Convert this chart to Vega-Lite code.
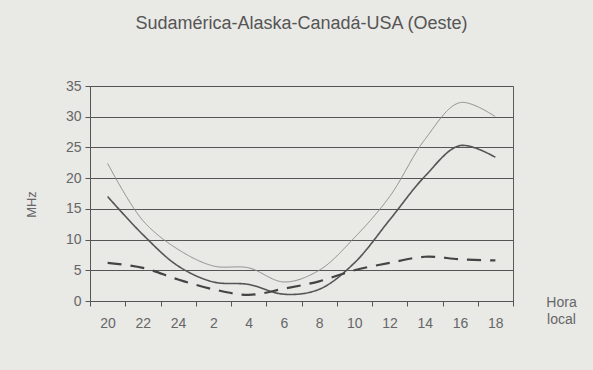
{
  "$schema": "https://vega.github.io/schema/vega-lite/v6.json",
  "autosize": "none",
  "width": 423,
  "height": 215,
  "padding": {"left": 90, "top": 86, "right": 80, "bottom": 69},
  "background": "#e9e9e6",
  "title": {
    "text": "Sudamérica-Alaska-Canadá-USA (Oeste)",
    "frame": "group",
    "anchor": "middle",
    "offset": 46,
    "fontSize": 18,
    "fontWeight": "normal",
    "font": "Liberation Sans",
    "color": "#555555"
  },
  "config": {
    "view": {"stroke": "#5a5a5a", "strokeWidth": 1, "fill": "#e9e9e6"},
    "axis": {
      "labelFont": "Liberation Sans",
      "titleFont": "Liberation Sans",
      "labelColor": "#666666",
      "titleColor": "#666666",
      "domainColor": "#555555",
      "tickColor": "#555555",
      "gridColor": "#555555",
      "gridOpacity": 1,
      "labelFontSize": 14,
      "titleFontSize": 13,
      "titleFontWeight": "normal"
    }
  },
  "data": {
    "values": [
      {"serie": "MUF", "hora": 20, "h": 1, "mhz": 22.4},
      {"serie": "MUF", "hora": 22, "h": 3, "mhz": 13.1},
      {"serie": "MUF", "hora": 24, "h": 5, "mhz": 8.4},
      {"serie": "MUF", "hora": 2, "h": 7, "mhz": 5.7},
      {"serie": "MUF", "hora": 4, "h": 9, "mhz": 5.4},
      {"serie": "MUF", "hora": 6, "h": 11, "mhz": 3.1},
      {"serie": "MUF", "hora": 8, "h": 13, "mhz": 5.0},
      {"serie": "MUF", "hora": 10, "h": 15, "mhz": 10.3},
      {"serie": "MUF", "hora": 12, "h": 17, "mhz": 17.0},
      {"serie": "MUF", "hora": 14, "h": 19, "mhz": 26.3},
      {"serie": "MUF", "hora": 16, "h": 21, "mhz": 32.3},
      {"serie": "MUF", "hora": 18, "h": 23, "mhz": 30.0},
      {"serie": "FOT", "hora": 20, "h": 1, "mhz": 17.0},
      {"serie": "FOT", "hora": 22, "h": 3, "mhz": 10.8},
      {"serie": "FOT", "hora": 24, "h": 5, "mhz": 5.7},
      {"serie": "FOT", "hora": 2, "h": 7, "mhz": 3.1},
      {"serie": "FOT", "hora": 4, "h": 9, "mhz": 2.7},
      {"serie": "FOT", "hora": 6, "h": 11, "mhz": 1.1},
      {"serie": "FOT", "hora": 8, "h": 13, "mhz": 1.9},
      {"serie": "FOT", "hora": 10, "h": 15, "mhz": 6.2},
      {"serie": "FOT", "hora": 12, "h": 17, "mhz": 13.2},
      {"serie": "FOT", "hora": 14, "h": 19, "mhz": 20.3},
      {"serie": "FOT", "hora": 16, "h": 21, "mhz": 25.3},
      {"serie": "FOT", "hora": 18, "h": 23, "mhz": 23.4},
      {"serie": "LUF", "hora": 20, "h": 1, "mhz": 6.2},
      {"serie": "LUF", "hora": 22, "h": 3, "mhz": 5.4},
      {"serie": "LUF", "hora": 24, "h": 5, "mhz": 3.5},
      {"serie": "LUF", "hora": 2, "h": 7, "mhz": 1.9},
      {"serie": "LUF", "hora": 4, "h": 9, "mhz": 1.0},
      {"serie": "LUF", "hora": 6, "h": 11, "mhz": 2.0},
      {"serie": "LUF", "hora": 8, "h": 13, "mhz": 3.2},
      {"serie": "LUF", "hora": 10, "h": 15, "mhz": 5.0},
      {"serie": "LUF", "hora": 12, "h": 17, "mhz": 6.2},
      {"serie": "LUF", "hora": 14, "h": 19, "mhz": 7.2},
      {"serie": "LUF", "hora": 16, "h": 21, "mhz": 6.8},
      {"serie": "LUF", "hora": 18, "h": 23, "mhz": 6.6}
    ]
  },
  "mark": {"type": "line", "interpolate": "catmull-rom"},
  "encoding": {
    "x": {
      "field": "h",
      "type": "quantitative",
      "scale": {"domain": [0, 24], "nice": false, "zero": false},
      "axis": {
        "values": [0, 2, 4, 6, 8, 10, 12, 14, 16, 18, 20, 22, 24],
        "labelExpr": "datum.value >= 24 ? '' : (datum.value + 20 > 24 ? datum.value - 4 : datum.value + 20)",
        "labelOffset": 17.6,
        "labelFlush": false,
        "labelOverlap": false,
        "labelPadding": 10,
        "tickSize": 5,
        "grid": false,
        "title": ["Hora", "local"],
        "titleX": 471,
        "titleY": -6,
        "titleBaseline": "top",
        "titleAlign": "center",
        "titleFontSize": 14,
        "titleLineHeight": 17
      }
    },
    "y": {
      "field": "mhz",
      "type": "quantitative",
      "scale": {"domain": [0, 35], "nice": false},
      "axis": {
        "values": [0, 5, 10, 15, 20, 25, 30, 35],
        "tickSize": 5,
        "labelPadding": 4,
        "grid": true,
        "title": "MHz",
        "titleX": -52,
        "titleY": 118,
        "titleFontSize": 13
      }
    },
    "detail": {"field": "serie"},
    "color": {
      "field": "serie",
      "type": "nominal",
      "scale": {"domain": ["MUF", "FOT", "LUF"], "range": ["#8c8c8c", "#555555", "#444444"]},
      "legend": null
    },
    "strokeWidth": {
      "field": "serie",
      "type": "nominal",
      "scale": {"domain": ["MUF", "FOT", "LUF"], "range": [1, 2.2, 3]},
      "legend": null
    },
    "strokeDash": {
      "field": "serie",
      "type": "nominal",
      "scale": {"domain": ["MUF", "FOT", "LUF"], "range": [[1, 0], [1, 0], [14, 9]]},
      "legend": null
    }
  }
}
